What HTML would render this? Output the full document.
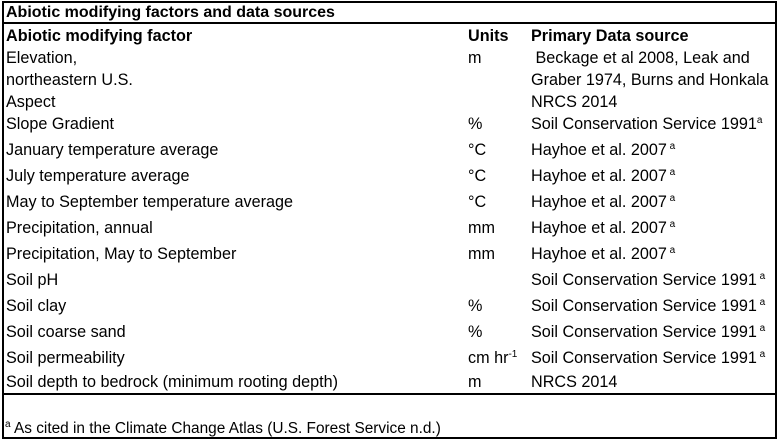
<!DOCTYPE html>
<html><head><meta charset="utf-8"><style>
body{margin:0;width:779px;height:441px;background:#fff;position:relative;overflow:hidden;font-family:"Liberation Sans",Arial,sans-serif;color:#000}
.t{position:absolute;font-size:16.2px;line-height:18px;white-space:nowrap}
.b{font-weight:bold;font-size:16px}
.ln{position:absolute;background:#000}
sup{font-size:10px;line-height:0;vertical-align:6px}
</style></head><body>
<div class="ln" style="left:2px;top:1px;width:2px;height:438px"></div>
<div class="ln" style="left:775px;top:1px;width:2px;height:438px"></div>
<div class="ln" style="left:2px;top:1px;width:775px;height:2px"></div>
<div class="ln" style="left:2px;top:437px;width:775px;height:2px"></div>
<div class="ln" style="left:2px;top:22px;width:775px;height:2px"></div>
<div class="ln" style="left:2px;top:393px;width:775px;height:2px"></div>
<div class="t b" style="left:6px;top:4px">Abiotic modifying factors and data sources</div>
<div id="rows"></div>
<div class="t" style="left:5px;top:420px;font-size:15.4px"><sup>a</sup> As cited in the Climate Change Atlas (U.S. Forest Service n.d.)</div>
<script>
const factors=["<b>Abiotic modifying factor</b>","Elevation,","northeastern U.S.","Aspect","Slope Gradient","January temperature average","July temperature average","May to September temperature average","Precipitation, annual","Precipitation, May to September","Soil pH","Soil clay","Soil coarse sand","Soil permeability","Soil depth to bedrock (minimum rooting depth)"];
const units=["<b>Units</b>","m","","","%","°C","°C","°C","mm","mm","","%","%","cm hr<sup>-1</sup>","m"];
const sources=["<b>Primary Data source</b>","&nbsp;Beckage et al 2008, Leak and","Graber 1974, Burns and Honkala","NRCS 2014","Soil Conservation Service 1991<sup>a</sup>","Hayhoe et al. 2007<sup> a</sup>","Hayhoe et al. 2007<sup> a</sup>","Hayhoe et al. 2007<sup> a</sup>","Hayhoe et al. 2007<sup> a</sup>","Hayhoe et al. 2007<sup> a</sup>","Soil Conservation Service 1991<sup> a</sup>","Soil Conservation Service 1991<sup> a</sup>","Soil Conservation Service 1991<sup> a</sup>","Soil Conservation Service 1991<sup> a</sup>","NRCS 2014"];
const centers=[36,58,80,102,124,150,176,202,228,254,280,306,332,358,382];
const cont=document.getElementById('rows');
const cols=[[factors,6,'factor'],[units,468,'unit'],[sources,531,'source']];
for(let i=0;i<factors.length;i++){
  for(const [arr,x,nm] of cols){
    if(!arr[i])continue;
    const d=document.createElement('div');
    d.className='t';
    d.style.left=x+'px';
    d.style.top=(centers[i]-9)+'px';
    d.innerHTML=arr[i];
    
    
    cont.appendChild(d);
  }
}
</script>
</body></html>
